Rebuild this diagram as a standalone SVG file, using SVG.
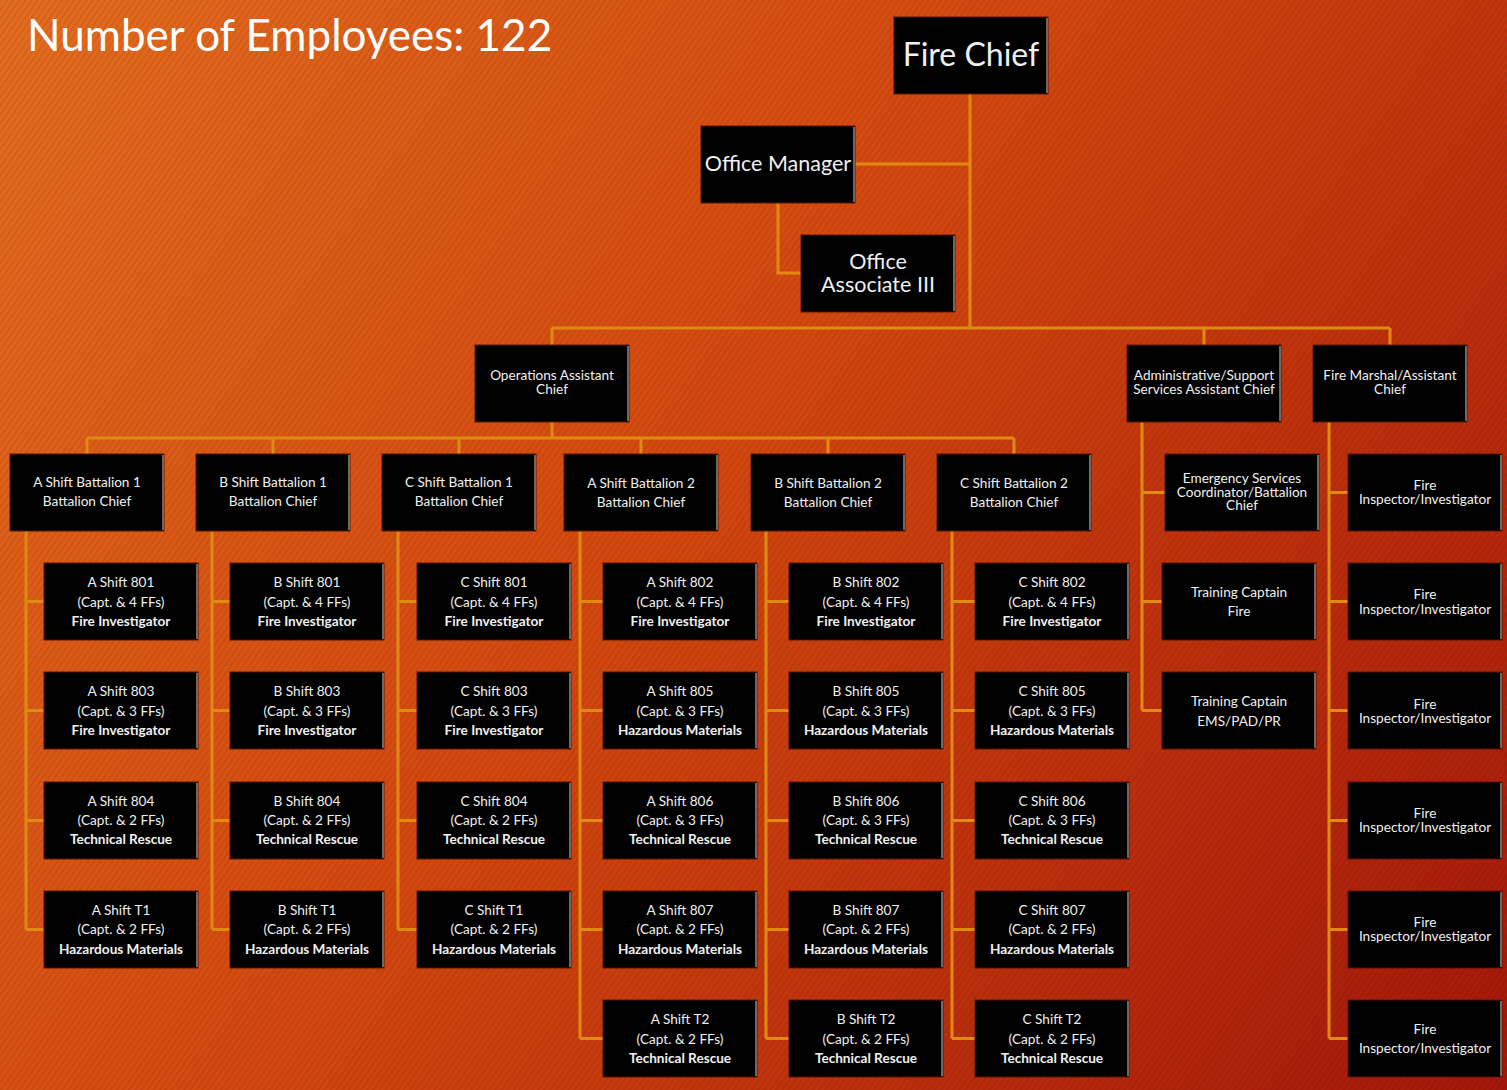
<svg xmlns="http://www.w3.org/2000/svg" width="1507" height="1090" viewBox="0 0 1507 1090">
<defs>
<linearGradient id="bg" x1="0" y1="0" x2="1507" y2="1090" gradientUnits="userSpaceOnUse">
<stop offset="0" stop-color="#e46d1f"/>
<stop offset="0.45" stop-color="#d4480f"/>
<stop offset="1" stop-color="#a5170a"/>
</linearGradient>
<pattern id="stripes" width="5" height="5" patternUnits="userSpaceOnUse" patternTransform="rotate(-55)">
<rect width="5" height="2" fill="#000" fill-opacity="0.07"/>
</pattern>
<style>
.box{fill:#000;stroke:#5a1606;stroke-width:1}
.edge{stroke:#8a8a8a;stroke-width:1.5}
.c{fill:none;stroke:#e08a12;stroke-width:3}
text{font-family:Lato,"Open Sans","DejaVu Sans",sans-serif;fill:#f0f0f0;text-anchor:middle}
.t13{font-size:13.6px}
.b{font-weight:bold}
.t22{font-size:21.5px}
</style>
</defs>
<rect width="1507" height="1090" fill="url(#bg)"/>
<rect width="1507" height="1090" fill="url(#stripes)"/>
<text x="27" y="51" style="font-size:44px;text-anchor:start;fill:#fff">Number of Employees: 122</text>

<g id="connectors">
<path class="c" d="M970 94V328M855 164H970M778 203V273H801M552 328H1390M552 328V345M1204 328V345M1390 328V345"/>
<path class="c" d="M552 422V438M87 438H1014M87 438V454M273 438V454M459 438V454M641 438V454M828 438V454M1014 438V454"/>
<path class="c" d="M26 531V929.5M26 601.5H44M26 710.5H44M26 820.5H44M26 929.5H44"/>
<path class="c" d="M212 531V929.5M212 601.5H230M212 710.5H230M212 820.5H230M212 929.5H230"/>
<path class="c" d="M398 531V929.5M398 601.5H417M398 710.5H417M398 820.5H417M398 929.5H417"/>
<path class="c" d="M580 531V1038.5M580 601.5H603M580 710.5H603M580 820.5H603M580 929.5H603M580 1038.5H603"/>
<path class="c" d="M766 531V1038.5M766 601.5H789M766 710.5H789M766 820.5H789M766 929.5H789M766 1038.5H789"/>
<path class="c" d="M952 531V1038.5M952 601.5H975M952 710.5H975M952 820.5H975M952 929.5H975M952 1038.5H975"/>
<path class="c" d="M1142 422V710.5M1142 492.5H1165M1142 601.5H1162M1142 710.5H1162"/>
<path class="c" d="M1329 422V1038.5M1329 492.5H1348M1329 601.5H1348M1329 710.5H1348M1329 820.5H1348M1329 929.5H1348M1329 1038.5H1348"/>
</g>

<g id="fire-chief"><rect class="box" x="894" y="17" width="154" height="77"/><line class="edge" x1="1047" y1="18" x2="1047" y2="93"/><text x="971" y="66" style="font-size:32px">Fire Chief</text></g>
<g id="office-manager"><rect class="box" x="701" y="126" width="154" height="77"/><line class="edge" x1="854" y1="127" x2="854" y2="202"/><text class="t22" x="778" y="171">Office Manager</text></g>
<g id="office-associate"><rect class="box" x="801" y="235" width="154" height="77"/><line class="edge" x1="954" y1="236" x2="954" y2="311"/><text class="t22" x="878" y="269">Office</text><text class="t22" x="878" y="292">Associate III</text></g>

<g id="ops-chief"><rect class="box" x="475" y="345" width="154" height="77"/><line class="edge" x1="628" y1="346" x2="628" y2="421"/><text class="t13" x="552" y="380">Operations Assistant</text><text class="t13" x="552" y="394">Chief</text></g>
<g id="admin-chief"><rect class="box" x="1127" y="345" width="154" height="77"/><line class="edge" x1="1280" y1="346" x2="1280" y2="421"/><text class="t13" x="1204" y="380">Administrative/Support</text><text class="t13" x="1204" y="394">Services Assistant Chief</text></g>
<g id="fire-marshal"><rect class="box" x="1313" y="345" width="154" height="77"/><line class="edge" x1="1466" y1="346" x2="1466" y2="421"/><text class="t13" x="1390" y="380">Fire Marshal/Assistant</text><text class="t13" x="1390" y="394">Chief</text></g>

<g id="a-bat1"><rect class="box" x="10" y="454" width="154" height="77"/><line class="edge" x1="163" y1="455" x2="163" y2="530"/><text class="t13" x="87" y="487">A Shift Battalion 1</text><text class="t13" x="87" y="506">Battalion Chief</text></g>
<g id="b-bat1"><rect class="box" x="196" y="454" width="154" height="77"/><line class="edge" x1="349" y1="455" x2="349" y2="530"/><text class="t13" x="273" y="487">B Shift Battalion 1</text><text class="t13" x="273" y="506">Battalion Chief</text></g>
<g id="c-bat1"><rect class="box" x="382" y="454" width="154" height="77"/><line class="edge" x1="535" y1="455" x2="535" y2="530"/><text class="t13" x="459" y="487">C Shift Battalion 1</text><text class="t13" x="459" y="506">Battalion Chief</text></g>
<g id="a-bat2"><rect class="box" x="564" y="454" width="154" height="77"/><line class="edge" x1="717" y1="455" x2="717" y2="530"/><text class="t13" x="641" y="488">A Shift Battalion 2</text><text class="t13" x="641" y="507">Battalion Chief</text></g>
<g id="b-bat2"><rect class="box" x="751" y="454" width="154" height="77"/><line class="edge" x1="904" y1="455" x2="904" y2="530"/><text class="t13" x="828" y="488">B Shift Battalion 2</text><text class="t13" x="828" y="507">Battalion Chief</text></g>
<g id="c-bat2"><rect class="box" x="937" y="454" width="154" height="77"/><line class="edge" x1="1090" y1="455" x2="1090" y2="530"/><text class="t13" x="1014" y="488">C Shift Battalion 2</text><text class="t13" x="1014" y="507">Battalion Chief</text></g>

<g id="ems-coord"><rect class="box" x="1165" y="454" width="154" height="77"/><line class="edge" x1="1318" y1="455" x2="1318" y2="530"/><text class="t13" x="1242" y="483">Emergency Services</text><text class="t13" x="1242" y="497">Coordinator/Battalion</text><text class="t13" x="1242" y="510">Chief</text></g>
<g id="training-fire"><rect class="box" x="1162" y="563" width="154" height="77"/><line class="edge" x1="1315" y1="564" x2="1315" y2="639"/><text class="t13" x="1239" y="597">Training Captain</text><text class="t13" x="1239" y="616">Fire</text></g>
<g id="training-ems"><rect class="box" x="1162" y="672" width="154" height="77"/><line class="edge" x1="1315" y1="673" x2="1315" y2="748"/><text class="t13" x="1239" y="706">Training Captain</text><text class="t13" x="1239" y="726">EMS/PAD/PR</text></g>

<g id="inspector-1"><rect class="box" x="1348" y="454" width="154" height="77"/><line class="edge" x1="1501" y1="455" x2="1501" y2="530"/><text class="t13" x="1425" y="490">Fire</text><text class="t13" x="1425" y="504">Inspector/Investigator</text></g>
<g id="inspector-2"><rect class="box" x="1348" y="563" width="154" height="77"/><line class="edge" x1="1501" y1="564" x2="1501" y2="639"/><text class="t13" x="1425" y="599">Fire</text><text class="t13" x="1425" y="614">Inspector/Investigator</text></g>
<g id="inspector-3"><rect class="box" x="1348" y="672" width="154" height="77"/><line class="edge" x1="1501" y1="673" x2="1501" y2="748"/><text class="t13" x="1425" y="709">Fire</text><text class="t13" x="1425" y="723">Inspector/Investigator</text></g>
<g id="inspector-4"><rect class="box" x="1348" y="782" width="154" height="77"/><line class="edge" x1="1501" y1="783" x2="1501" y2="858"/><text class="t13" x="1425" y="818">Fire</text><text class="t13" x="1425" y="832">Inspector/Investigator</text></g>
<g id="inspector-5"><rect class="box" x="1348" y="891" width="154" height="77"/><line class="edge" x1="1501" y1="892" x2="1501" y2="967"/><text class="t13" x="1425" y="927">Fire</text><text class="t13" x="1425" y="941">Inspector/Investigator</text></g>
<g id="inspector-6"><rect class="box" x="1348" y="1000" width="154" height="77"/><line class="edge" x1="1501" y1="1001" x2="1501" y2="1076"/><text class="t13" x="1425" y="1034">Fire</text><text class="t13" x="1425" y="1053">Inspector/Investigator</text></g>

<g id="a801"><rect class="box" x="44" y="563" width="154" height="77"/><line class="edge" x1="197" y1="564" x2="197" y2="639"/><text class="t13" x="121" y="587">A Shift 801</text><text class="t13" x="121" y="607">(Capt. &amp; 4 FFs)</text><text class="t13 b" x="121" y="626">Fire Investigator</text></g>
<g id="a803"><rect class="box" x="44" y="672" width="154" height="77"/><line class="edge" x1="197" y1="673" x2="197" y2="748"/><text class="t13" x="121" y="696">A Shift 803</text><text class="t13" x="121" y="716">(Capt. &amp; 3 FFs)</text><text class="t13 b" x="121" y="735">Fire Investigator</text></g>
<g id="a804"><rect class="box" x="44" y="782" width="154" height="77"/><line class="edge" x1="197" y1="783" x2="197" y2="858"/><text class="t13" x="121" y="806">A Shift 804</text><text class="t13" x="121" y="825">(Capt. &amp; 2 FFs)</text><text class="t13 b" x="121" y="844">Technical Rescue</text></g>
<g id="at1"><rect class="box" x="44" y="891" width="154" height="77"/><line class="edge" x1="197" y1="892" x2="197" y2="967"/><text class="t13" x="121" y="915">A Shift T1</text><text class="t13" x="121" y="934">(Capt. &amp; 2 FFs)</text><text class="t13 b" x="121" y="954">Hazardous Materials</text></g>

<g id="b801"><rect class="box" x="230" y="563" width="154" height="77"/><line class="edge" x1="383" y1="564" x2="383" y2="639"/><text class="t13" x="307" y="587">B Shift 801</text><text class="t13" x="307" y="607">(Capt. &amp; 4 FFs)</text><text class="t13 b" x="307" y="626">Fire Investigator</text></g>
<g id="b803"><rect class="box" x="230" y="672" width="154" height="77"/><line class="edge" x1="383" y1="673" x2="383" y2="748"/><text class="t13" x="307" y="696">B Shift 803</text><text class="t13" x="307" y="716">(Capt. &amp; 3 FFs)</text><text class="t13 b" x="307" y="735">Fire Investigator</text></g>
<g id="b804"><rect class="box" x="230" y="782" width="154" height="77"/><line class="edge" x1="383" y1="783" x2="383" y2="858"/><text class="t13" x="307" y="806">B Shift 804</text><text class="t13" x="307" y="825">(Capt. &amp; 2 FFs)</text><text class="t13 b" x="307" y="844">Technical Rescue</text></g>
<g id="bt1"><rect class="box" x="230" y="891" width="154" height="77"/><line class="edge" x1="383" y1="892" x2="383" y2="967"/><text class="t13" x="307" y="915">B Shift T1</text><text class="t13" x="307" y="934">(Capt. &amp; 2 FFs)</text><text class="t13 b" x="307" y="954">Hazardous Materials</text></g>

<g id="c801"><rect class="box" x="417" y="563" width="154" height="77"/><line class="edge" x1="570" y1="564" x2="570" y2="639"/><text class="t13" x="494" y="587">C Shift 801</text><text class="t13" x="494" y="607">(Capt. &amp; 4 FFs)</text><text class="t13 b" x="494" y="626">Fire Investigator</text></g>
<g id="c803"><rect class="box" x="417" y="672" width="154" height="77"/><line class="edge" x1="570" y1="673" x2="570" y2="748"/><text class="t13" x="494" y="696">C Shift 803</text><text class="t13" x="494" y="716">(Capt. &amp; 3 FFs)</text><text class="t13 b" x="494" y="735">Fire Investigator</text></g>
<g id="c804"><rect class="box" x="417" y="782" width="154" height="77"/><line class="edge" x1="570" y1="783" x2="570" y2="858"/><text class="t13" x="494" y="806">C Shift 804</text><text class="t13" x="494" y="825">(Capt. &amp; 2 FFs)</text><text class="t13 b" x="494" y="844">Technical Rescue</text></g>
<g id="ct1"><rect class="box" x="417" y="891" width="154" height="77"/><line class="edge" x1="570" y1="892" x2="570" y2="967"/><text class="t13" x="494" y="915">C Shift T1</text><text class="t13" x="494" y="934">(Capt. &amp; 2 FFs)</text><text class="t13 b" x="494" y="954">Hazardous Materials</text></g>

<g id="a802"><rect class="box" x="603" y="563" width="154" height="77"/><line class="edge" x1="756" y1="564" x2="756" y2="639"/><text class="t13" x="680" y="587">A Shift 802</text><text class="t13" x="680" y="607">(Capt. &amp; 4 FFs)</text><text class="t13 b" x="680" y="626">Fire Investigator</text></g>
<g id="a805"><rect class="box" x="603" y="672" width="154" height="77"/><line class="edge" x1="756" y1="673" x2="756" y2="748"/><text class="t13" x="680" y="696">A Shift 805</text><text class="t13" x="680" y="716">(Capt. &amp; 3 FFs)</text><text class="t13 b" x="680" y="735">Hazardous Materials</text></g>
<g id="a806"><rect class="box" x="603" y="782" width="154" height="77"/><line class="edge" x1="756" y1="783" x2="756" y2="858"/><text class="t13" x="680" y="806">A Shift 806</text><text class="t13" x="680" y="825">(Capt. &amp; 3 FFs)</text><text class="t13 b" x="680" y="844">Technical Rescue</text></g>
<g id="a807"><rect class="box" x="603" y="891" width="154" height="77"/><line class="edge" x1="756" y1="892" x2="756" y2="967"/><text class="t13" x="680" y="915">A Shift 807</text><text class="t13" x="680" y="934">(Capt. &amp; 2 FFs)</text><text class="t13 b" x="680" y="954">Hazardous Materials</text></g>
<g id="at2"><rect class="box" x="603" y="1000" width="154" height="77"/><line class="edge" x1="756" y1="1001" x2="756" y2="1076"/><text class="t13" x="680" y="1024">A Shift T2</text><text class="t13" x="680" y="1044">(Capt. &amp; 2 FFs)</text><text class="t13 b" x="680" y="1063">Technical Rescue</text></g>

<g id="b802"><rect class="box" x="789" y="563" width="154" height="77"/><line class="edge" x1="942" y1="564" x2="942" y2="639"/><text class="t13" x="866" y="587">B Shift 802</text><text class="t13" x="866" y="607">(Capt. &amp; 4 FFs)</text><text class="t13 b" x="866" y="626">Fire Investigator</text></g>
<g id="b805"><rect class="box" x="789" y="672" width="154" height="77"/><line class="edge" x1="942" y1="673" x2="942" y2="748"/><text class="t13" x="866" y="696">B Shift 805</text><text class="t13" x="866" y="716">(Capt. &amp; 3 FFs)</text><text class="t13 b" x="866" y="735">Hazardous Materials</text></g>
<g id="b806"><rect class="box" x="789" y="782" width="154" height="77"/><line class="edge" x1="942" y1="783" x2="942" y2="858"/><text class="t13" x="866" y="806">B Shift 806</text><text class="t13" x="866" y="825">(Capt. &amp; 3 FFs)</text><text class="t13 b" x="866" y="844">Technical Rescue</text></g>
<g id="b807"><rect class="box" x="789" y="891" width="154" height="77"/><line class="edge" x1="942" y1="892" x2="942" y2="967"/><text class="t13" x="866" y="915">B Shift 807</text><text class="t13" x="866" y="934">(Capt. &amp; 2 FFs)</text><text class="t13 b" x="866" y="954">Hazardous Materials</text></g>
<g id="bt2"><rect class="box" x="789" y="1000" width="154" height="77"/><line class="edge" x1="942" y1="1001" x2="942" y2="1076"/><text class="t13" x="866" y="1024">B Shift T2</text><text class="t13" x="866" y="1044">(Capt. &amp; 2 FFs)</text><text class="t13 b" x="866" y="1063">Technical Rescue</text></g>

<g id="c802"><rect class="box" x="975" y="563" width="154" height="77"/><line class="edge" x1="1128" y1="564" x2="1128" y2="639"/><text class="t13" x="1052" y="587">C Shift 802</text><text class="t13" x="1052" y="607">(Capt. &amp; 4 FFs)</text><text class="t13 b" x="1052" y="626">Fire Investigator</text></g>
<g id="c805"><rect class="box" x="975" y="672" width="154" height="77"/><line class="edge" x1="1128" y1="673" x2="1128" y2="748"/><text class="t13" x="1052" y="696">C Shift 805</text><text class="t13" x="1052" y="716">(Capt. &amp; 3 FFs)</text><text class="t13 b" x="1052" y="735">Hazardous Materials</text></g>
<g id="c806"><rect class="box" x="975" y="782" width="154" height="77"/><line class="edge" x1="1128" y1="783" x2="1128" y2="858"/><text class="t13" x="1052" y="806">C Shift 806</text><text class="t13" x="1052" y="825">(Capt. &amp; 3 FFs)</text><text class="t13 b" x="1052" y="844">Technical Rescue</text></g>
<g id="c807"><rect class="box" x="975" y="891" width="154" height="77"/><line class="edge" x1="1128" y1="892" x2="1128" y2="967"/><text class="t13" x="1052" y="915">C Shift 807</text><text class="t13" x="1052" y="934">(Capt. &amp; 2 FFs)</text><text class="t13 b" x="1052" y="954">Hazardous Materials</text></g>
<g id="ct2"><rect class="box" x="975" y="1000" width="154" height="77"/><line class="edge" x1="1128" y1="1001" x2="1128" y2="1076"/><text class="t13" x="1052" y="1024">C Shift T2</text><text class="t13" x="1052" y="1044">(Capt. &amp; 2 FFs)</text><text class="t13 b" x="1052" y="1063">Technical Rescue</text></g>
</svg>
